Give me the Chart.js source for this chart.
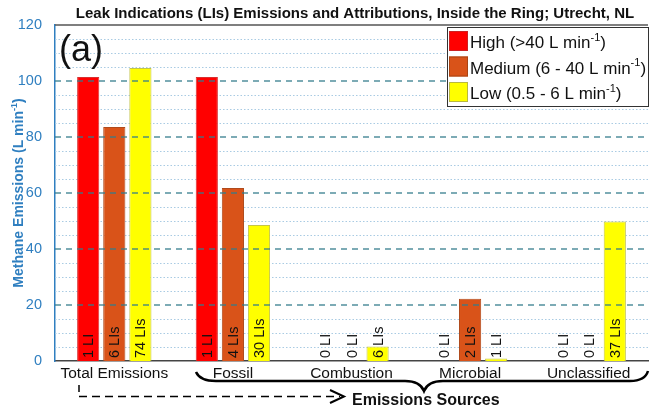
<!DOCTYPE html>
<html>
<head>
<meta charset="utf-8">
<script src="https://cdn.jsdelivr.net/npm/chart.js@4/dist/chart.umd.min.js"></script>
<style>
  body { margin: 0; background: #fff; }
  #wrap { width: 650px; height: 412px; }
</style>
</head>
<body>
<div id="wrap"><canvas id="myChart" width="650" height="412"></canvas></div>
<script>
const categories = ['Total Emissions', 'Fossil', 'Combustion', 'Microbial', 'Unclassified'];
const highValues = [101.4, 101.4, 0, 0, 0];
const mediumValues = [83.6, 61.8, 0, 22.2, 0];
const lowValues = [104.6, 48.6, 5.2, 0.9, 49.8];
const highCounts = [1, 1, 0, 0, 0];
const mediumCounts = [6, 4, 0, 2, 0];
const lowCounts = [74, 30, 6, 1, 37];
const yTicks = [0, 20, 40, 60, 80, 100, 120];
const minorStep = 5;

const fontFamily = '"Liberation Sans", Arial, Helvetica, sans-serif';
const axisBlue = '#2f7fc0';

Chart.defaults.font.family = fontFamily;

// draws text with optional superscript pieces, returns width
function drawParts(ctx, parts, x, y, size, weight, measureOnly) {
    let cx = x;
    parts.forEach((p) => {
        let sup = p[1];
        let fs = sup ? Math.round(size * 0.62) : size;
        ctx.font = weight + ' ' + fs + 'px ' + fontFamily;
        if (!measureOnly) {
            ctx.fillText(p[0], cx, sup ? y - size * 0.42 : y);
        }
        cx += ctx.measureText(p[0]).width;
    });
    return cx - x;
}

function countLabel(n) {
    return n === 1 ? '1 LI' : (n === 0 ? '0 LI' : n + ' LIs');
}

const extras = {
    id: 'extras',
    beforeDatasetsDraw(chart) {
        let ctx = chart.ctx;
        let area = chart.chartArea;
        let y = chart.scales.y;
        ctx.save();
        // minor dotted grid
        ctx.strokeStyle = '#a9cbe3';
        ctx.lineWidth = 1;
        ctx.setLineDash([1.5, 2]);
        for (let v = minorStep; v < 120; v += minorStep) {
            if (v % 20 === 0) continue;
            let py = Math.round(y.getPixelForValue(v)) + 0.5;
            ctx.beginPath();
            ctx.moveTo(area.left, py);
            ctx.lineTo(area.right, py);
            ctx.stroke();
        }
        ctx.restore();
    },
    afterDatasetsDraw(chart) {
        let ctx = chart.ctx;
        let area = chart.chartArea;
        let y = chart.scales.y;
        ctx.save();
        // major dashed grid, on top of the bars
        ctx.strokeStyle = 'rgba(50,125,140,0.85)';
        ctx.lineWidth = 1.5;
        ctx.setLineDash([6, 5]);
        yTicks.forEach((v) => {
            if (v === 0 || v === 120) return;
            let py = Math.round(y.getPixelForValue(v));
            ctx.beginPath();
            ctx.moveTo(area.left, py);
            ctx.lineTo(area.right, py);
            ctx.stroke();
        });
        ctx.setLineDash([]);
        // top border
        ctx.strokeStyle = '#555';
        ctx.lineWidth = 1.5;
        ctx.beginPath();
        ctx.moveTo(area.left, area.top);
        ctx.lineTo(area.right, area.top);
        ctx.stroke();

        // LI counts written up the bars
        let counts = [highCounts, mediumCounts, lowCounts];
        ctx.fillStyle = '#111';
        ctx.font = '14.5px ' + fontFamily;
        ctx.textAlign = 'left';
        ctx.textBaseline = 'middle';
        counts.forEach((arr, di) => {
            let meta = chart.getDatasetMeta(di);
            arr.forEach((n, i) => {
                let bar = meta.data[i];
                ctx.save();
                ctx.translate(bar.x + 1, area.bottom - 3);
                ctx.rotate(-Math.PI / 2);
                ctx.fillText(countLabel(n), 0, 0);
                ctx.restore();
            });
        });
        ctx.restore();
    },
    afterDraw(chart) {
        let ctx = chart.ctx;
        let area = chart.chartArea;
        ctx.save();
        ctx.textBaseline = 'alphabetic';
        ctx.textAlign = 'left';

        // title
        ctx.fillStyle = '#111';
        ctx.font = 'bold 15px ' + fontFamily;
        ctx.textAlign = 'center';
        ctx.fillText('Leak Indications (LIs) Emissions and Attributions, Inside the Ring; Utrecht, NL', 355, 18);
        ctx.textAlign = 'left';

        // panel letter
        ctx.font = '36px ' + fontFamily;
        ctx.fillText('(a)', 59, 61);

        // y axis title with superscript
        ctx.fillStyle = axisBlue;
        let yParts = [['Methane Emissions (L min', false], ['-1', true], [')', false]];
        let yw = drawParts(ctx, yParts, 0, 0, 14, 'bold', true);
        ctx.save();
        ctx.translate(23, (area.top + area.bottom) / 2);
        ctx.rotate(-Math.PI / 2);
        drawParts(ctx, yParts, -yw / 2, 0, 14, 'bold', false);
        ctx.restore();

        // legend box
        let lx = 447, ly = 27, lw = 201, lh = 79;
        ctx.fillStyle = '#fff';
        ctx.fillRect(lx, ly, lw, lh);
        ctx.strokeStyle = '#333';
        ctx.lineWidth = 1;
        ctx.strokeRect(lx + 0.5, ly + 0.5, lw, lh);
        let legendItems = [
            { color: '#ff0000', border: '#cc2222', parts: [['High (>40 L min', false], ['-1', true], [')', false]] },
            { color: '#d95319', border: '#a84414', parts: [['Medium (6 - 40 L min', false], ['-1', true], [')', false]] },
            { color: '#ffff00', border: '#b8b840', parts: [['Low (0.5 - 6 L min', false], ['-1', true], [')', false]] }
        ];
        legendItems.forEach((item, i) => {
            let top = 31 + i * 25.5;
            ctx.fillStyle = item.color;
            ctx.fillRect(449, top, 19, 20);
            ctx.strokeStyle = item.border;
            ctx.strokeRect(449.5, top + 0.5, 18, 19);
            ctx.fillStyle = '#111';
            drawParts(ctx, item.parts, 470, top + 17, 17, 'normal', false);
        });

        // curly brace under the source categories
        ctx.strokeStyle = '#000';
        ctx.lineWidth = 2.5;
        ctx.beginPath();
        ctx.moveTo(196, 372);
        ctx.quadraticCurveTo(200, 381, 216, 381);
        ctx.lineTo(405, 381);
        ctx.quadraticCurveTo(420, 381, 424, 391);
        ctx.quadraticCurveTo(428, 381, 443, 381);
        ctx.lineTo(630, 381);
        ctx.quadraticCurveTo(645, 381, 648, 371);
        ctx.stroke();

        // dashed arrow
        ctx.lineWidth = 1.5;
        ctx.beginPath();
        ctx.moveTo(79, 385);
        ctx.lineTo(79, 392);
        ctx.stroke();
        ctx.setLineDash([8, 5]);
        ctx.beginPath();
        ctx.moveTo(79, 396.5);
        ctx.lineTo(340, 396.5);
        ctx.stroke();
        ctx.setLineDash([]);
        ctx.lineWidth = 2;
        ctx.beginPath();
        ctx.moveTo(330, 390);
        ctx.lineTo(344, 396.5);
        ctx.lineTo(330, 403);
        ctx.stroke();

        ctx.fillStyle = '#111';
        ctx.font = 'bold 16px ' + fontFamily;
        ctx.fillText('Emissions Sources', 352, 405);
        ctx.restore();
    }
};

const data = {
    labels: categories,
    datasets: [
        { label: 'High', data: highValues, backgroundColor: '#ff0000', borderColor: '#d83030', borderWidth: 1 },
        { label: 'Medium', data: mediumValues, backgroundColor: '#d95319', borderColor: '#b04a1c', borderWidth: 1 },
        { label: 'Low', data: lowValues, backgroundColor: '#ffff00', borderColor: '#c4c44a', borderWidth: 1 }
    ]
};

const config = {
    type: 'bar',
    data: data,
    options: {
        responsive: false,
        animation: false,
        layout: { padding: { top: 25, right: 2, left: 0, bottom: 0 } },
        categoryPercentage: 0.66,
        barPercentage: 0.85,
        plugins: {
            legend: { display: false },
            title: { display: false },
            tooltip: { enabled: false }
        },
        scales: {
            x: {
                grid: { display: false, drawTicks: false },
                border: { color: '#444', width: 1.5 },
                ticks: { color: '#111', font: { size: 15.5 }, padding: 3 },
                afterFit: (scale) => { scale.height = 51; }
            },
            y: {
                min: 0,
                max: 120,
                grid: { display: false },
                border: { color: axisBlue, width: 1.5 },
                ticks: {
                    stepSize: 20,
                    color: axisBlue,
                    font: { size: 14.5 },
                    padding: 5
                },
                afterFit: (scale) => { scale.width = 55; }
            }
        }
    },
    plugins: [extras]
};

const myChart = new Chart(document.getElementById('myChart'), config);
</script>
</body>
</html>
